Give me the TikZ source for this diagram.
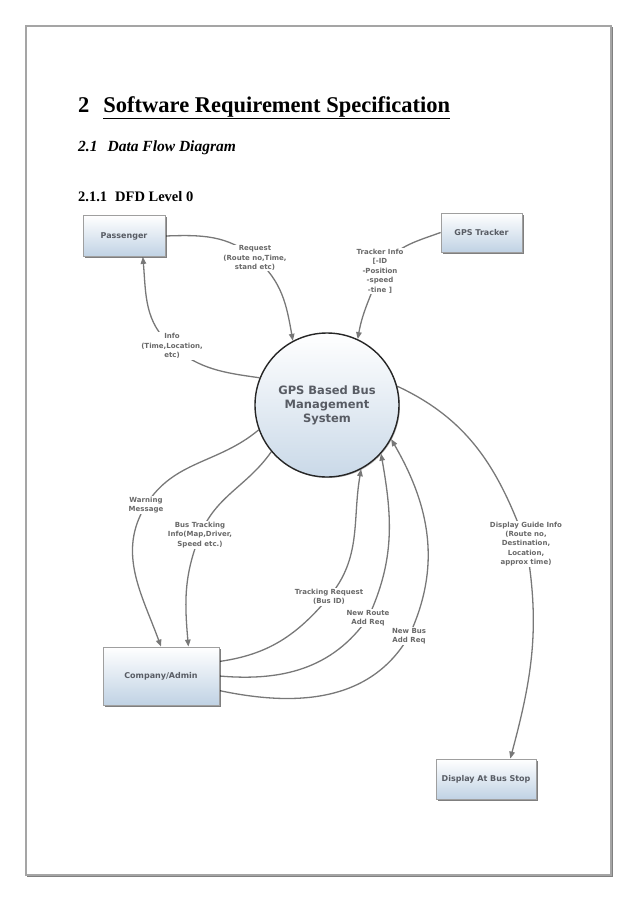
\documentclass[tikz,border=0pt]{standalone}
\usepackage{fontspec}
\setmainfont{Liberation Serif}
\newfontfamily\dfdfont{DejaVu Sans}
\usetikzlibrary{arrows.meta,shadows,backgrounds,positioning}
\definecolor{boxblue}{RGB}{192,210,228}
\definecolor{flowgray}{RGB}{120,120,120}
\definecolor{txtgray}{RGB}{88,92,100}
\definecolor{lblgray}{RGB}{105,105,105}
\definecolor{framegray}{RGB}{165,165,165}

\tikzset{
    ent/.style={draw=gray!75, line width=0.8pt, top color=white, bottom color=boxblue,
        drop shadow={shadow xshift=1.6pt, shadow yshift=-1.6pt, fill=black, opacity=0.5},
        font=\dfdfont\bfseries\fontsize{8}{9}\selectfont, text=txtgray},
    proc/.style={circle, draw=gray!30!black, line width=1.4pt, minimum size=144pt, inner sep=0pt,
        top color=white, bottom color=boxblue!85, align=center,
        drop shadow={shadow xshift=1pt, shadow yshift=-1pt, fill=black, opacity=0.25},
        font=\dfdfont\bfseries\fontsize{11.5}{14}\selectfont, text=txtgray},
    lbl/.style={fill=white, inner sep=1pt, align=center,
        font=\dfdfont\bfseries\fontsize{7}{9.4}\selectfont, text=lblgray},
    flow/.style={draw=flowgray, line width=1.3pt},
    flowto/.style={flow, -{Triangle[length=7pt,width=5.5pt]}},
}

\begin{document}
\begin{tikzpicture}[x=1pt,y=1pt]
    \useasboundingbox (0,0) rectangle (638,-903);

    % page frame
    \draw[framegray, line width=1.6pt] (26,-26) rectangle (611,-875);
    \draw[gray, line width=0.9pt] (612,-27) -- (612,-876) -- (27,-876);

    % headings
    \node[anchor=base west, inner sep=0pt, font=\bfseries\fontsize{22.5}{24}\selectfont] (h1) at (78,-112)
        {2\hspace{14pt}\underline{Software Requirement Specification}};
    \node[anchor=base west, inner sep=0pt, font=\bfseries\itshape\fontsize{15.5}{17}\selectfont] (h2) at (78,-151)
        {2.1\hspace{10pt}Data Flow Diagram};
    \node[anchor=base west, inner sep=0pt, font=\bfseries\fontsize{14.5}{16}\selectfont] (h3) at (78,-201)
        {2.1.1\hspace{8pt}DFD Level 0};

    % entities and process
    \node[ent, minimum width=82pt, minimum height=41pt] (pass) at (124,-236) {Passenger};
    \node[ent, minimum width=81pt, minimum height=39pt] (trk) at (481.5,-232.5) {GPS Tracker};
    \node[proc] (gps) at (327,-405) {GPS Based Bus\\Management\\System};
    \node[ent, minimum width=116pt, minimum height=58pt] (comp) at (161,-676) {Company/Admin};
    \node[ent, minimum width=100pt, minimum height=40pt] (disp) at (486,-779) {Display At Bus Stop};

    % flow labels
    \node[lbl] (lreq) at (255,-258) {Request\\(Route no,Time,\\stand etc)};
    \node[lbl] (ltrk) at (380,-271) {Tracker Info\\{[}-ID\\-Position\\-speed\\-tine ]};
    \node[lbl] (linfo) at (172,-346) {Info\\(Time,Location,\\etc)};
    \node[lbl] (lwarn) at (146,-505) {Warning\\Message};
    \node[lbl] (lbus) at (200,-535) {Bus Tracking\\Info(Map,Driver,\\Speed etc.)};
    \node[lbl] (ltreq) at (329,-597) {Tracking Request\\(Bus ID)};
    \node[lbl] (lroute) at (368,-618) {New Route\\Add Req};
    \node[lbl] (lnbus) at (409,-636) {New Bus\\Add Req};
    \node[lbl] (lguide) at (526,-544) {Display Guide Info\\(Route no,\\Destination,\\Location,\\approx time)};

    % data flows
    \begin{scope}[on background layer]
        \draw[flow] (pass.east) to[out=2, in=140] (lreq.center);
        \draw[flowto] (lreq.center) to[out=-40, in=100] (gps.118);

        \draw[flow] (trk.west) to[out=200, in=60] (ltrk.center);
        \draw[flowto] (ltrk.center) to[out=-110, in=80] (gps.65);

        \draw[flow] (gps.158) to[out=172, in=-40] (linfo.center);
        \draw[flowto] (linfo.center) to[out=140, in=-85] (pass.-48);

        \draw[flow] (gps.200) to[out=220, in=58] (lwarn.center);
        \draw[flowto] (lwarn.center) to[out=-122, in=110] (comp.north);

        \draw[flow] (gps.220) to[out=235, in=68] (lbus.center);
        \draw[flowto] (lbus.center) to[out=-112, in=95] (comp.47);

        \draw[flow] (comp.14) to[out=8, in=230] (ltreq.center);
        \draw[flowto] (ltreq.center) to[out=50, in=-100] (gps.-62);

        \draw[flow] (comp.0) to[out=-5, in=235] (lroute.center);
        \draw[flowto] (lroute.center) to[out=65, in=-80] (gps.-42);

        \draw[flow] (comp.-14) to[out=-12, in=240] (lnbus.center);
        \draw[flowto] (lnbus.center) to[out=65, in=-60] (gps.-28);

        \draw[flow] (gps.15) to[out=-25, in=110] (lguide.center);
        \draw[flowto] (lguide.center) to[out=-80, in=75] (disp.40);
    \end{scope}
\end{tikzpicture}
\end{document}
